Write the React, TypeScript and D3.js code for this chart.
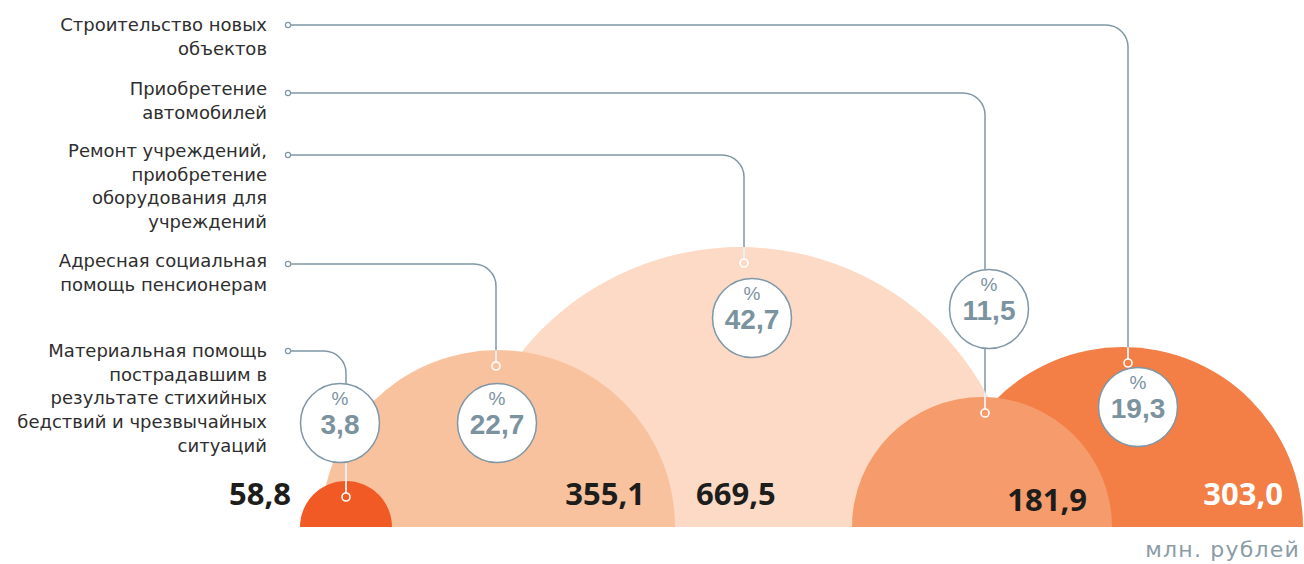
import React from "react";
import * as d3 from "d3";

// ---- data ----
const categories: string[][] = [
  ["Материальная помощь", "пострадавшим в", "результате стихийных", "бедствий и чрезвычайных", "ситуаций"],
  ["Адресная социальная", "помощь пенсионерам"],
  ["Ремонт учреждений,", "приобретение", "оборудования для", "учреждений"],
  ["Приобретение", "автомобилей"],
  ["Строительство новых", "объектов"],
];
const values: number[] = [58.8, 355.1, 669.5, 181.9, 303.0];
const shares: number[] = [3.8, 22.7, 42.7, 11.5, 19.3];
const unitLabel = "млн. рублей";

const colors = ["#F15A24", "#F9C29F", "#FCDAC5", "#F69B6B", "#F37E46"];

const W = 1304;
const H = 564;
const BASE = 527;

const fmt = (v: number) => d3.format(".1f")(v).replace(".", ",");

export default function App() {
  // radius scale (as drawn in the original, not strictly proportional)
  const rScale = d3
    .scaleLinear()
    .domain([0, 58.8, 181.9, 303.0, 355.1, 669.5])
    .range([0, 46, 130, 180, 177, 280]);
  const xScale = d3.scaleLinear().domain([0, 1, 2, 3, 4]).range([346, 498, 740, 982, 1123]);

  // layout for callouts
  const lineDx = [0, -2, 4, 3, 5];
  const lineY = [351, 264, 155, 93, 25];
  const textY = [357, 267, 157, 95, 31];
  const bubbleDx = [-6, 1, 8, 4, 10];
  const bubbleY = [423, 423, 318, 309, 407];
  const labelX = 267;
  const startX = 288;
  const lh = 23.7;
  const cr = 22;

  const items = values.map((v, i) => {
    const r = rScale(v);
    const cx = xScale(i);
    return { v, i, r, cx, lx: cx + lineDx[i], my: BASE - r + 16 };
  });

  const arc = (cx: number, r: number) =>
    `M${cx - r},${BASE} A${r},${r} 0 0 1 ${cx + r},${BASE} Z`;

  const order = [...items].sort((a, b) => b.r - a.r);

  const leader = (it: any) => {
    const y = lineY[it.i];
    const x = it.lx;
    const p = d3.path();
    p.moveTo(startX + 3, y);
    p.lineTo(x - cr, y);
    p.arcTo(x, y, x, y + cr, cr);
    p.lineTo(x, it.my - 4);
    return p.toString();
  };

  const valueLabel = (it: any) => {
    const i = it.i;
    if (i === 0) return { x: it.cx - it.r - 9, y: 505, anchor: "end", fill: "#1d1d1b" };
    if (i === 1) return { x: it.cx + it.r - 30, y: 505, anchor: "end", fill: "#1d1d1b" };
    if (i === 2) return { x: items[1].cx + items[1].r + 21, y: 505, anchor: "start", fill: "#1d1d1b" };
    if (i === 3) return { x: it.cx + it.r - 25, y: 511, anchor: "end", fill: "#1d1d1b" };
    return { x: it.cx + it.r - 20, y: 505, anchor: "end", fill: "#ffffff" };
  };

  const gray = "#7F97A6";
  const labelFont = "'DejaVu Sans', sans-serif";

  return (
    <svg
      width={W}
      height={H}
      style={{ position: "absolute", left: 0, top: 0, background: "#fff" }}
      fontFamily="'Open Sans', 'Noto Sans', sans-serif"
    >
      <defs>
        <clipPath id="semis">
          {items.map((it) => (
            <path key={it.i} d={arc(it.cx, it.r)} />
          ))}
        </clipPath>
      </defs>

      {order.map((it) => (
        <path key={it.i} d={arc(it.cx, it.r)} fill={colors[it.i]} />
      ))}

      {/* leader lines */}
      {items.map((it) => (
        <path key={"g" + it.i} d={leader(it)} fill="none" stroke={gray} strokeWidth={1.5} />
      ))}
      <g clipPath="url(#semis)">
        {items.map((it) => (
          <path key={"w" + it.i} d={leader(it)} fill="none" stroke="#fff" strokeWidth={1.6} />
        ))}
      </g>

      {/* start markers */}
      {items.map((it) => (
        <circle key={"s" + it.i} cx={startX} cy={lineY[it.i]} r={2.6} fill="#fff" stroke={gray} strokeWidth={1.2} />
      ))}
      {/* end markers */}
      {items.map((it) => (
        <circle key={"e" + it.i} cx={it.lx} cy={it.my} r={4} fill={colors[it.i]} stroke="#fff" strokeWidth={1.6} />
      ))}

      {/* bubbles */}
      {items.map((it) => {
        const bx = it.lx + bubbleDx[it.i];
        const by = bubbleY[it.i];
        return (
          <g key={"b" + it.i}>
            <circle cx={bx} cy={by} r={39.5} fill="#fff" stroke={gray} strokeWidth={1.5} />
            <text x={bx} y={by - 18} textAnchor="middle" fontSize={19} fontFamily="'Liberation Sans', sans-serif" fill="#7B929F">%</text>
            <text x={bx} y={by + 11} textAnchor="middle" fontSize={28} fontWeight={700} fontFamily="'Liberation Sans', sans-serif" fill="#7B929F">
              {fmt(shares[it.i])}
            </text>
          </g>
        );
      })}

      {/* value labels */}
      {items.map((it) => {
        const l = valueLabel(it);
        return (
          <text key={"v" + it.i} x={l.x} y={l.y} textAnchor={l.anchor as any} fontSize={31} fontWeight={700} fill={l.fill}>
            {fmt(it.v)}
          </text>
        );
      })}

      {/* category labels */}
      {categories.map((lines, i) => (
        <text key={"c" + i} x={labelX} y={textY[i]} textAnchor="end" fontSize={18} fontFamily={labelFont} fill="#2e2e2e">
          {lines.map((s, j) => (
            <tspan key={j} x={labelX} dy={j === 0 ? 0 : lh}>
              {s}
            </tspan>
          ))}
        </text>
      ))}

      <text x={1300} y={557} textAnchor="end" fontSize={22} fontFamily={labelFont} letterSpacing={1.2} fill="#8A9CA7">
        {unitLabel}
      </text>
    </svg>
  );
}
